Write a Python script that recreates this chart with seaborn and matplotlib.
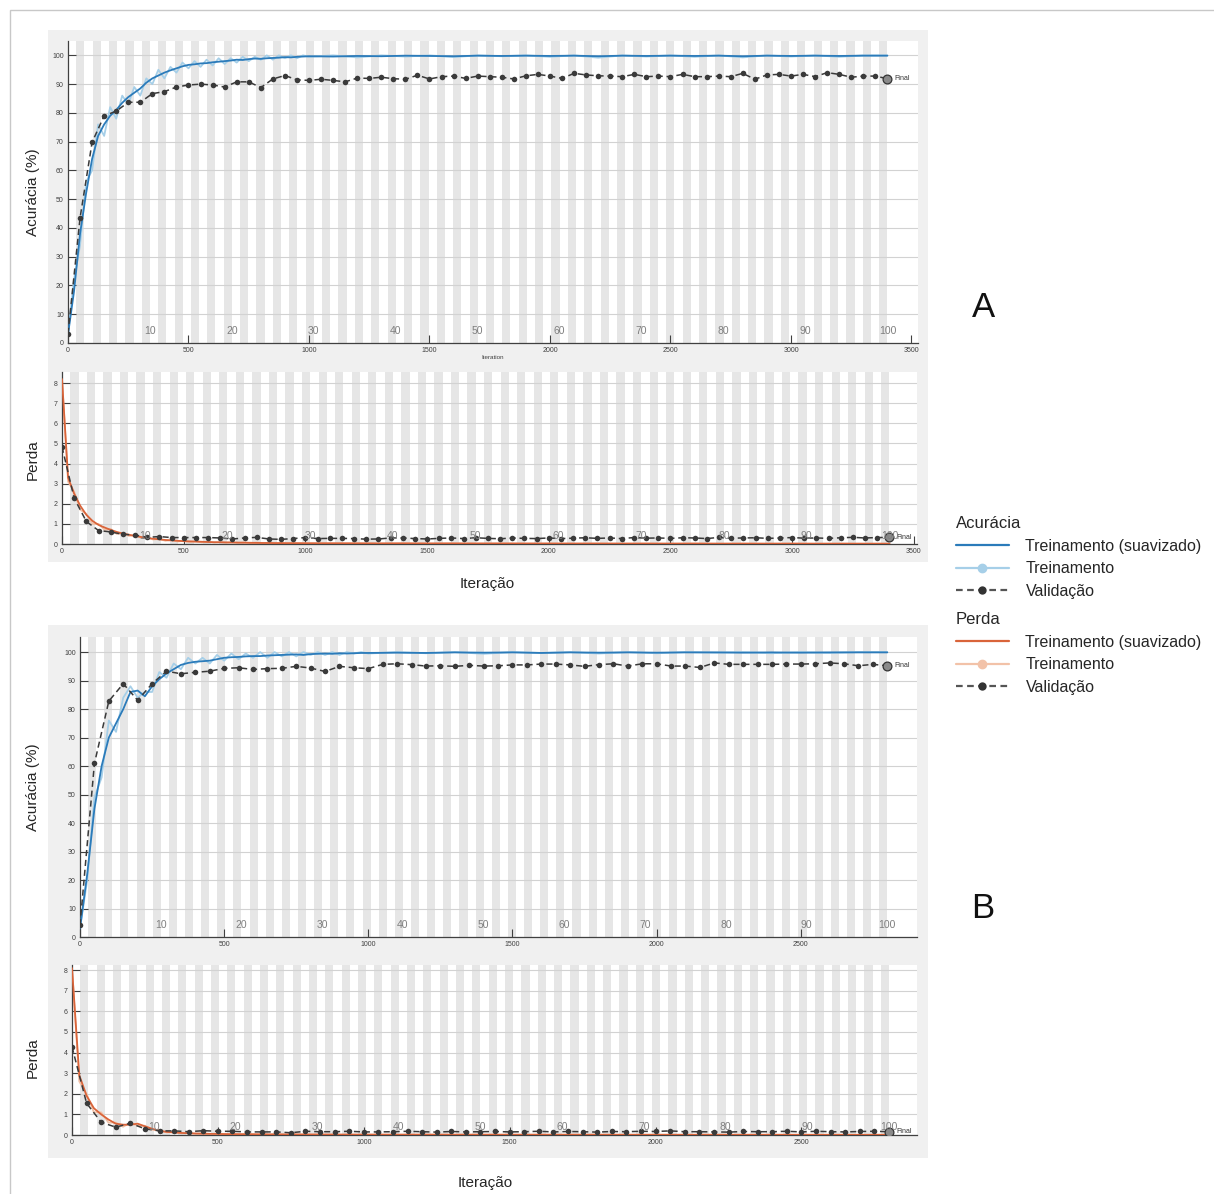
import numpy as np
import pandas as pd
import seaborn as sns
import matplotlib
matplotlib.use("Agg")
import matplotlib.pyplot as plt
from matplotlib.lines import Line2D
from matplotlib.patches import Rectangle

# ---------------- data ----------------
EPOCHS = 100
VAL_FREQ = 50
IPE_A = 34          # iterations per epoch, panel A
IPE_B = 28          # iterations per epoch, panel B

# training curves sampled every 25 it. up to 1000, then every 100 it.
a_train_iter = list(range(0, 1000, 25)) + list(range(1000, 3401, 100))
b_train_iter = list(range(0, 1000, 25)) + list(range(1000, 2801, 100))

a_acc_smooth = [3, 18, 38, 52, 64, 72, 76, 79, 81, 83.5, 85.5, 87, 88.5, 90.5, 92, 93, 94, 94.8, 95.5, 96.2,
                96.7, 96.9, 97.2, 97.3, 97.6, 97.8, 98.0, 98.2, 98.5, 98.4, 98.7, 98.9, 98.8, 99.0, 99.1, 99.2,
                99.4, 99.3, 99.5, 99.6,
                99.7, 99.6, 99.8, 99.7, 99.9, 99.8, 99.7, 99.9, 99.8, 99.9, 99.8, 99.9, 99.7, 99.9, 99.8, 99.9,
                99.8, 99.9, 99.7, 99.9, 99.8, 99.9, 99.8, 99.9, 99.9]
a_acc_raw = [3, 22, 34, 56, 60, 76, 72, 82, 78, 86, 83, 89, 86, 92, 90, 95, 92, 96, 94, 97.5,
             95.5, 98, 96, 98.5, 96.5, 99, 97, 99, 97.5, 99.5, 98, 99.5, 98.5, 100, 98.5, 100, 99, 100, 99, 100,
             99.5, 100, 99.3, 100, 99.6, 100, 99.4, 100, 99.7, 100, 99.5, 100, 99.2, 100, 99.6, 100, 99.5, 100,
             99.3, 100, 99.6, 100, 99.5, 100, 100]
a_loss_smooth = [8.2, 3.3, 2.5, 1.9, 1.45, 1.15, 0.95, 0.82, 0.7, 0.6, 0.52, 0.46, 0.4, 0.35, 0.3, 0.26, 0.23,
                 0.2, 0.18, 0.16, 0.14, 0.13, 0.12, 0.11, 0.1, 0.09, 0.085, 0.08, 0.075, 0.07, 0.065, 0.06,
                 0.055, 0.05, 0.05, 0.045, 0.045, 0.04, 0.04, 0.04,
                 0.035, 0.035, 0.03, 0.03, 0.03, 0.028, 0.028, 0.025, 0.025, 0.025, 0.022, 0.022, 0.022, 0.02,
                 0.02, 0.02, 0.02, 0.018, 0.018, 0.018, 0.018, 0.016, 0.016, 0.016, 0.016]
a_loss_raw = [8.2, 3.1, 2.6, 1.7, 1.5, 1.0, 1.0, 0.7, 0.75, 0.5, 0.55, 0.4, 0.45, 0.3, 0.33, 0.22, 0.25, 0.16,
              0.2, 0.12, 0.16, 0.1, 0.13, 0.08, 0.11, 0.07, 0.1, 0.06, 0.09, 0.05, 0.08, 0.04, 0.07, 0.04, 0.06,
              0.03, 0.05, 0.03, 0.05, 0.03,
              0.04, 0.03, 0.04, 0.02, 0.035, 0.02, 0.03, 0.02, 0.03, 0.015, 0.03, 0.015, 0.025, 0.015, 0.025,
              0.01, 0.025, 0.01, 0.02, 0.01, 0.02, 0.01, 0.02, 0.01, 0.015]

b_acc_smooth = [3, 22, 45, 60, 70, 75, 80, 86, 86.5, 84.5, 88, 90.5, 92.5, 94, 95.5, 96.2, 96.6, 96.8, 97, 97.5,
                98, 98.2, 98.3, 98.5, 98.6, 98.6, 98.8, 98.9, 99, 99.1, 99.2, 99.0, 99.3, 99.4, 99.5, 99.4,
                99.6, 99.5, 99.6, 99.7,
                99.7, 99.8, 99.7, 99.9, 99.8, 99.9, 99.7, 99.9, 99.8, 99.9, 99.8, 99.9, 99.9, 99.8, 99.9, 99.8,
                99.9, 99.9, 99.9]
b_acc_raw = [3, 20, 49, 56, 76, 72, 84, 88, 84, 86, 86, 93, 91, 96, 94, 98, 96, 98, 96, 99,
             97, 99.5, 97.5, 99.5, 98, 100, 98, 100, 98.5, 100, 98.5, 100, 99, 100, 99, 100, 99, 100, 99.5, 100,
             99.5, 100, 99.6, 100, 99.4, 100, 99.7, 100, 99.5, 100, 99.6, 100, 99.8, 100, 99.6, 100, 99.7, 100,
             100]
b_loss_smooth = [8.1, 2.9, 1.9, 1.3, 1.0, 0.75, 0.55, 0.5, 0.5, 0.55, 0.42, 0.3, 0.2, 0.15, 0.12, 0.1, 0.08,
                 0.07, 0.06, 0.055, 0.05, 0.045, 0.04, 0.04, 0.035, 0.035, 0.03, 0.03, 0.03, 0.028, 0.028,
                 0.025, 0.025, 0.025, 0.022, 0.022, 0.02, 0.02, 0.02, 0.02,
                 0.018, 0.018, 0.016, 0.016, 0.015, 0.015, 0.014, 0.014, 0.013, 0.013, 0.012, 0.012, 0.012,
                 0.011, 0.011, 0.011, 0.01, 0.01, 0.01]
b_loss_raw = [8.1, 2.6, 2.0, 1.1, 1.1, 0.6, 0.6, 0.4, 0.6, 0.45, 0.45, 0.25, 0.25, 0.12, 0.15, 0.08, 0.11, 0.06,
              0.08, 0.05, 0.07, 0.04, 0.06, 0.03, 0.05, 0.03, 0.04, 0.02, 0.04, 0.02, 0.035, 0.02, 0.03, 0.015,
              0.03, 0.015, 0.025, 0.015, 0.025, 0.01,
              0.02, 0.01, 0.02, 0.01, 0.015, 0.01, 0.015, 0.01, 0.015, 0.008, 0.012, 0.008, 0.012, 0.008,
              0.012, 0.008, 0.01, 0.008, 0.01]

# validation every 50 iterations (+ final point)
a_val_acc = [3.2, 43.5, 69.8, 79.0, 80.6, 83.7, 83.7, 86.7, 87.4, 89.0,
             89.7, 90.0, 89.7, 89.0, 90.8, 90.8, 88.8, 91.8, 93.0, 91.5,
             91.3, 91.7, 91.3, 90.8, 92.1, 92.0, 92.4, 91.9, 91.7, 93.1,
             91.8, 92.6, 92.8, 92.0, 92.8, 92.6, 92.4, 91.8, 92.9, 93.4,
             92.8, 92.0, 93.75, 93.2, 92.9, 92.8, 92.6, 93.4, 92.6, 92.8,
             92.6, 93.4, 92.6, 92.6, 92.8, 92.6, 93.75, 91.7, 93.2, 93.4,
             92.8, 93.4, 92.6, 94.0, 93.4, 92.4, 92.8, 92.8]
a_val_acc_final = 91.9
a_val_loss = [4.83, 2.28, 1.12, 0.67, 0.60, 0.48, 0.45, 0.33, 0.37, 0.32,
              0.32, 0.32, 0.32, 0.30, 0.25, 0.30, 0.33, 0.25, 0.23, 0.27,
              0.32, 0.27, 0.28, 0.28, 0.27, 0.24, 0.25, 0.30, 0.30, 0.27,
              0.25, 0.28, 0.30, 0.27, 0.31, 0.28, 0.26, 0.30, 0.28, 0.27,
              0.30, 0.27, 0.29, 0.31, 0.28, 0.30, 0.27, 0.32, 0.29, 0.30,
              0.28, 0.31, 0.30, 0.27, 0.33, 0.29, 0.30, 0.31, 0.28, 0.30,
              0.32, 0.29, 0.30, 0.28, 0.31, 0.33, 0.30, 0.32]
a_val_loss_final = 0.33

b_val_acc = [4.1, 60.9, 82.8, 88.9, 83.1, 88.9, 93.3, 92.4, 92.9, 93.3,
             94.3, 94.5, 93.9, 94.2, 94.3, 95.0, 94.4, 93.2, 95.0, 94.5,
             94.2, 95.7, 95.9, 95.6, 95.1, 95.2, 95.0, 95.35, 95.1, 95.2,
             95.5, 95.5, 95.8, 95.8, 95.5, 95.0, 95.6, 95.9, 95.1, 95.9,
             95.9, 95.1, 95.1, 94.6, 96.2, 95.7, 95.7, 95.7, 95.7, 95.8,
             95.8, 95.9, 96.2, 95.9, 95.2, 95.7]
b_val_acc_final = 95.2
b_val_loss = [4.28, 1.54, 0.62, 0.38, 0.57, 0.30, 0.20, 0.20, 0.16, 0.21,
              0.18, 0.18, 0.15, 0.15, 0.15, 0.11, 0.18, 0.16, 0.16, 0.18,
              0.15, 0.15, 0.16, 0.18, 0.16, 0.14, 0.17, 0.15, 0.16, 0.17,
              0.15, 0.16, 0.18, 0.15, 0.17, 0.16, 0.14, 0.17, 0.16, 0.18,
              0.17, 0.20, 0.16, 0.16, 0.15, 0.14, 0.17, 0.16, 0.16, 0.18,
              0.15, 0.18, 0.16, 0.15, 0.17, 0.18]
b_val_loss_final = 0.16

epoch_labels = [str(e) for e in range(10, 101, 10)]

# ---------------- style ----------------
sns.set_style("white")
plt.rcParams["font.family"] = ["Liberation Sans", "DejaVu Sans"]

C_ACC = "#2b7bba"
C_ACC_RAW = "#a6cfe8"
C_LOSS = "#d9643a"
C_LOSS_RAW = "#f2c2a8"
C_VAL = "#3a3a3a"
STRIPE = "#e6e6e6"
PANEL = "#f0f0f0"
TXT = "#262626"

W, H = 1214, 1194
fig = plt.figure(figsize=(W / 100, H / 100), dpi=100)
fig.patch.set_facecolor("white")


def box(l, t, r, b):
    return [l / W, 1 - b / H, (r - l) / W, (b - t) / H]


# outer frame and grey panels
fig.add_artist(Rectangle((10 / W, -0.1), 1.2, 1.1 - 10 / H, transform=fig.transFigure,
                         facecolor="none", edgecolor="#c8c8c8", lw=1, zorder=-3, clip_on=False))
for (l, t, r, b) in [(48, 30, 928, 562), (48, 625, 928, 1158)]:
    fig.add_artist(Rectangle((l / W, 1 - b / H), (r - l) / W, (b - t) / H, transform=fig.transFigure,
                             facecolor=PANEL, edgecolor="none", zorder=-2))


def draw(ax, it, smooth, raw, val, val_final, ipe, xmax, ymax, yticks, xticks,
         c_s, c_r, lab_off):
    ax.set_facecolor("white")
    for e in range(2, EPOCHS + 1, 2):
        ax.axvspan((e - 1) * ipe, e * ipe, color=STRIPE, lw=0, zorder=0)
    sns.lineplot(x=it, y=raw, ax=ax, color=c_r, lw=1.3, zorder=2, estimator=None)
    sns.lineplot(x=it, y=smooth, ax=ax, color=c_s, lw=1.3, zorder=3, estimator=None)
    final_it = EPOCHS * ipe
    vx = list(range(0, VAL_FREQ * len(val), VAL_FREQ)) + [final_it]
    vy = list(val) + [val_final]
    sns.lineplot(x=vx, y=vy, ax=ax, color=C_VAL, lw=1.1, linestyle=(0, (4, 2.5)), marker="o",
                 markersize=4, markeredgewidth=0, zorder=4, estimator=None)
    sns.scatterplot(x=[final_it], y=[val_final], ax=ax, s=40, color="#8a8a8a", edgecolor="#333333",
                    linewidth=0.9, zorder=5)
    ax.annotate("Final", (final_it, val_final), xytext=(5, 0), textcoords="offset points",
                fontsize=5, color="#333333", va="center", ha="left")
    ax.set_xlim(0, xmax)
    ax.set_ylim(0, ymax)
    ax.set_xticks(xticks)
    ax.set_yticks(yticks)
    ax.set_axisbelow(True)
    ax.yaxis.grid(True, color="#d2d2d2", lw=0.8)
    ax.xaxis.grid(False)
    for s in ["top", "right"]:
        ax.spines[s].set_visible(False)
    for s in ["left", "bottom"]:
        ax.spines[s].set_color("#404040")
        ax.spines[s].set_linewidth(0.9)
    ax.tick_params(direction="in", length=6, width=0.8, labelsize=5, colors="#404040", pad=3,
                   left=True, bottom=True)
    for e, lab in zip(range(10, EPOCHS + 1, 10), epoch_labels):
        ax.annotate(lab, (e * ipe, 0), xycoords=("data", "axes fraction"), xytext=(0, lab_off),
                    textcoords="offset points", fontsize=7.5, color="#7f7f7f", ha="center",
                    va="center", zorder=6)
    ax.set_xlabel("")
    ax.set_ylabel("")


# Panel A
axA1 = fig.add_axes(box(68, 41, 918, 343))
draw(axA1, a_train_iter, a_acc_smooth, a_acc_raw, a_val_acc, a_val_acc_final, IPE_A, 3527, 105,
     range(0, 101, 10), range(0, 3501, 500), C_ACC, C_ACC_RAW, 8.6)
axA2 = fig.add_axes(box(62, 372, 917, 544))
draw(axA2, a_train_iter, a_loss_smooth, a_loss_raw, a_val_loss, a_val_loss_final, IPE_A, 3513, 8.55,
     range(0, 9), range(0, 3501, 500), C_LOSS, C_LOSS_RAW, 5.8)

# Panel B
axB1 = fig.add_axes(box(80, 637, 917, 937))
draw(axB1, b_train_iter, b_acc_smooth, b_acc_raw, b_val_acc, b_val_acc_final, IPE_B, 2903, 105.3,
     range(0, 101, 10), range(0, 2501, 500), C_ACC, C_ACC_RAW, 8.6)
axB2 = fig.add_axes(box(72, 965, 917, 1135))
draw(axB2, b_train_iter, b_loss_smooth, b_loss_raw, b_val_loss, b_val_loss_final, IPE_B, 2896, 8.25,
     range(0, 9), range(0, 2501, 500), C_LOSS, C_LOSS_RAW, 5.8)

# texts
fig.text(493 / W, 1 - 358 / H, "Iteration", fontsize=4.5, color="#404040", ha="center", va="center")
for y in (192, 787):
    fig.text(33 / W, 1 - y / H, "Acurácia (%)", rotation=90, fontsize=11, color=TXT, ha="center", va="center")
for y in (460, 1058):
    fig.text(33 / W, 1 - y / H, "Perda", rotation=90, fontsize=11, color=TXT, ha="center", va="center")
fig.text(487 / W, 1 - 584 / H, "Iteração", fontsize=11, color=TXT, ha="center", va="center")
fig.text(485 / W, 1 - 1183 / H, "Iteração", fontsize=11, color=TXT, ha="center", va="center")
fig.text(983 / W, 1 - 308 / H, "A", fontsize=25, color="#111111", ha="center", va="center")
fig.text(983 / W, 1 - 908 / H, "B", fontsize=25, color="#111111", ha="center", va="center")

# legends
labels = ["Treinamento (suavizado)", "Treinamento", "Validação"]
for title, cs, cr, ytop in [("Acurácia", C_ACC, C_ACC_RAW, 516), ("Perda", C_LOSS, C_LOSS_RAW, 612)]:
    handles = [Line2D([], [], color=cs, lw=1.6),
               Line2D([], [], color=cr, lw=1.6, marker="o", markersize=6),
               Line2D([], [], color="#555555", lw=1.6, ls=(0, (3, 2)), marker="o", markersize=6,
                      markerfacecolor="#333333", markeredgewidth=0)]
    leg = fig.legend(handles, labels, title=title, loc="upper left", bbox_to_anchor=(956 / W, 1 - ytop / H),
                     frameon=False, fontsize=11.5, title_fontsize=12, handlelength=3.3, handletextpad=1.05,
                     labelspacing=0.48, borderpad=0, borderaxespad=0, alignment="left")
    for t in leg.get_texts():
        t.set_color(TXT)
    leg.get_title().set_color(TXT)

fig.savefig("out.png", dpi=100)
